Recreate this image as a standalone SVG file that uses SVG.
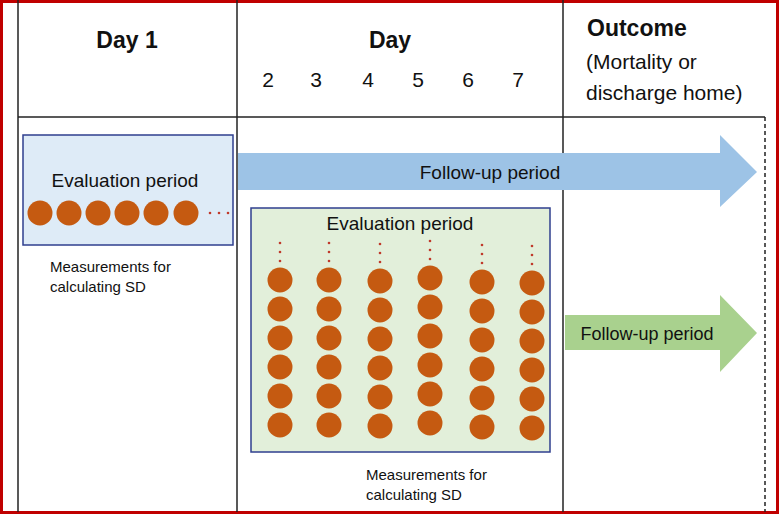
<svg xmlns="http://www.w3.org/2000/svg" width="779" height="514" viewBox="0 0 779 514">
<style>
text{font-family:"Liberation Sans",Arial,sans-serif;fill:#111}
.h{font-weight:bold;font-size:23px}
.m{font-size:21px}
.s{font-size:15px}
.c{fill:#c55a11}
.d{fill:#c0392b}
.ln{stroke:#222;stroke-width:1.5;fill:none}
</style>
<rect x="1.5" y="1.5" width="776" height="511" fill="#fff" stroke="#c00000" stroke-width="3"/>
<g id="grid">
<line class="ln" x1="18" y1="0" x2="18" y2="512"/>
<line class="ln" x1="237" y1="0" x2="237" y2="512"/>
<line class="ln" x1="563" y1="0" x2="563" y2="512"/>
<line class="ln" x1="18" y1="117" x2="765" y2="117"/>
<line class="ln" x1="765" y1="117" x2="765" y2="512" stroke-dasharray="4,3"/>
</g>
<g id="headers">
<text class="h" x="127" y="48" text-anchor="middle">Day 1</text>
<text class="h" x="390" y="48" text-anchor="middle">Day</text>
<text class="m" x="268" y="87" text-anchor="middle">2</text>
<text class="m" x="316" y="87" text-anchor="middle">3</text>
<text class="m" x="368" y="87" text-anchor="middle">4</text>
<text class="m" x="418" y="87" text-anchor="middle">5</text>
<text class="m" x="468" y="87" text-anchor="middle">6</text>
<text class="m" x="518" y="87" text-anchor="middle">7</text>
<text class="h" x="587" y="36">Outcome</text>
<text class="m" x="586" y="69">(Mortality or</text>
<text class="m" x="586" y="100">discharge home)</text>
</g>
<g id="eval1">
<rect x="23" y="135" width="210" height="110" fill="#deebf7" stroke="#2f3f8f" stroke-width="1.5"/>
<text class="m" x="125" y="187" text-anchor="middle" style="font-size:19px">Evaluation period</text>
<circle class="c" cx="40" cy="213" r="12.5"/><circle class="c" cx="69" cy="213" r="12.5"/><circle class="c" cx="98" cy="213" r="12.5"/><circle class="c" cx="127" cy="213" r="12.5"/><circle class="c" cx="156" cy="213" r="12.5"/><circle class="c" cx="186" cy="213" r="12.5"/>
<circle class="d" cx="210" cy="213" r="1.3"/><circle class="d" cx="219" cy="213" r="1.3"/><circle class="d" cx="228" cy="213" r="1.3"/>
<text class="s" x="50" y="272">Measurements for</text>
<text class="s" x="50" y="292">calculating SD</text>
</g>
<g id="follow1">
<polygon points="238,153 720,153 720,135 757,172 720,207 720,190 238,190" fill="#9dc3e6"/>
<text class="m" x="490" y="179" text-anchor="middle" style="font-size:19px">Follow-up period</text>
</g>
<g id="eval2">
<rect x="251" y="208" width="299" height="244" fill="#e2efda" stroke="#2f3f8f" stroke-width="1.5"/>
<text class="m" x="400" y="230" text-anchor="middle" style="font-size:19px">Evaluation period</text>
<g id="cols">
<g transform="translate(280,0)"><circle class="d" cx="0" cy="243" r="1.3"/><circle class="d" cx="0" cy="252" r="1.3"/><circle class="d" cx="0" cy="261" r="1.3"/><circle class="c" cx="0" cy="280" r="12.5"/><circle class="c" cx="0" cy="309" r="12.5"/><circle class="c" cx="0" cy="338" r="12.5"/><circle class="c" cx="0" cy="367" r="12.5"/><circle class="c" cx="0" cy="396" r="12.5"/><circle class="c" cx="0" cy="425" r="12.5"/></g>
<g transform="translate(329,0)"><circle class="d" cx="0" cy="243" r="1.3"/><circle class="d" cx="0" cy="252" r="1.3"/><circle class="d" cx="0" cy="261" r="1.3"/><circle class="c" cx="0" cy="280" r="12.5"/><circle class="c" cx="0" cy="309" r="12.5"/><circle class="c" cx="0" cy="338" r="12.5"/><circle class="c" cx="0" cy="367" r="12.5"/><circle class="c" cx="0" cy="396" r="12.5"/><circle class="c" cx="0" cy="425" r="12.5"/></g>
<g transform="translate(380,1)"><circle class="d" cx="0" cy="243" r="1.3"/><circle class="d" cx="0" cy="252" r="1.3"/><circle class="d" cx="0" cy="261" r="1.3"/><circle class="c" cx="0" cy="280" r="12.5"/><circle class="c" cx="0" cy="309" r="12.5"/><circle class="c" cx="0" cy="338" r="12.5"/><circle class="c" cx="0" cy="367" r="12.5"/><circle class="c" cx="0" cy="396" r="12.5"/><circle class="c" cx="0" cy="425" r="12.5"/></g>
<g transform="translate(430,-2)"><circle class="d" cx="0" cy="243" r="1.3"/><circle class="d" cx="0" cy="252" r="1.3"/><circle class="d" cx="0" cy="261" r="1.3"/><circle class="c" cx="0" cy="280" r="12.5"/><circle class="c" cx="0" cy="309" r="12.5"/><circle class="c" cx="0" cy="338" r="12.5"/><circle class="c" cx="0" cy="367" r="12.5"/><circle class="c" cx="0" cy="396" r="12.5"/><circle class="c" cx="0" cy="425" r="12.5"/></g>
<g transform="translate(482,2)"><circle class="d" cx="0" cy="243" r="1.3"/><circle class="d" cx="0" cy="252" r="1.3"/><circle class="d" cx="0" cy="261" r="1.3"/><circle class="c" cx="0" cy="280" r="12.5"/><circle class="c" cx="0" cy="309" r="12.5"/><circle class="c" cx="0" cy="338" r="12.5"/><circle class="c" cx="0" cy="367" r="12.5"/><circle class="c" cx="0" cy="396" r="12.5"/><circle class="c" cx="0" cy="425" r="12.5"/></g>
<g transform="translate(532,3)"><circle class="d" cx="0" cy="243" r="1.3"/><circle class="d" cx="0" cy="252" r="1.3"/><circle class="d" cx="0" cy="261" r="1.3"/><circle class="c" cx="0" cy="280" r="12.5"/><circle class="c" cx="0" cy="309" r="12.5"/><circle class="c" cx="0" cy="338" r="12.5"/><circle class="c" cx="0" cy="367" r="12.5"/><circle class="c" cx="0" cy="396" r="12.5"/><circle class="c" cx="0" cy="425" r="12.5"/></g>
</g>
<text class="s" x="366" y="480">Measurements for</text>
<text class="s" x="366" y="500">calculating SD</text>
</g>
<g id="follow2">
<polygon points="565,315 720,315 720,295 757,333 720,372 720,350 565,350" fill="#a9d18e"/>
<text class="m" x="647" y="340" text-anchor="middle" style="font-size:18px">Follow-up period</text>
</g>
</svg>
